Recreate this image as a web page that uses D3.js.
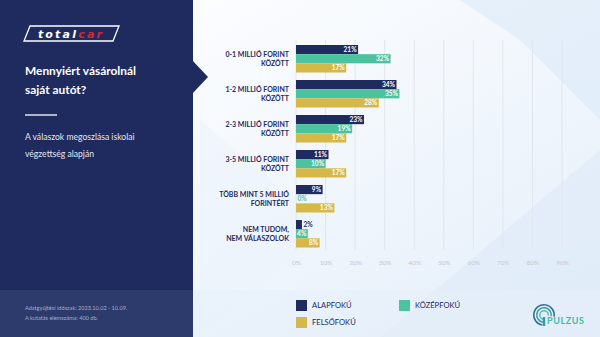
<!DOCTYPE html>
<html><head><meta charset="utf-8">
<script src="https://cdn.jsdelivr.net/npm/d3@7"></script>
<style>html,body{margin:0;padding:0;background:#fff;overflow:hidden}svg{display:block;font-family:Lato,"Open Sans",sans-serif}</style>
</head><body><svg id="c" width="600" height="337"></svg>
<script>
const categories = [["0-1 MILLIÓ FORINT","KÖZÖTT"],["1-2 MILLIÓ FORINT","KÖZÖTT"],["2-3 MILLIÓ FORINT","KÖZÖTT"],["3-5 MILLIÓ FORINT","KÖZÖTT"],["TÖBB MINT 5 MILLIÓ","FORINTÉRT"],["NEM TUDOM,","NEM VÁLASZOLOK"]];
const seriesNames = ["ALAPFOKÚ","KÖZÉPFOKÚ","FELSŐFOKÚ"];
const alapfoku = [21,34,23,11,9,2];
const kozepfoku = [32,35,19,10,0,4];
const felsofoku = [17,28,17,17,13,8];
const tickValues = [0,10,20,30,40,50,60,70,80,90];
const colors = ["#1f2a5e","#4cc39f","#d5b847"];
const series = [alapfoku,kozepfoku,felsofoku];

const svg = d3.select("#c");
const defs = svg.append("defs");
const g1 = defs.append("linearGradient").attr("id","bg").attr("x1","0").attr("y1","0").attr("x2","1").attr("y2","1");
g1.append("stop").attr("offset","0").attr("stop-color","#ffffff");
g1.append("stop").attr("offset","0.45").attr("stop-color","#f4f8fd");
g1.append("stop").attr("offset","1").attr("stop-color","#e3eefa");
svg.append("rect").attr("x",0).attr("y",0).attr("width",600).attr("height",337).attr("fill","url(#bg)");
// soft diagonal shapes
svg.append("polygon").attr("points","460,0 600,0 600,120 520,40").attr("fill","#dbe9f8").attr("opacity",0.6);
svg.append("polygon").attr("points","380,337 600,150 600,337").attr("fill","#dceaf8").attr("opacity",0.55);
svg.append("polygon").attr("points","200,120 330,230 200,337").attr("fill","#edf3fb").attr("opacity",0.6);
svg.append("rect").attr("x",193).attr("y",290).attr("width",407).attr("height",47).attr("fill","#e6f0fa").attr("opacity",0.5);

// left panel
svg.append("rect").attr("x",0).attr("y",0).attr("width",193).attr("height",337).attr("fill","#1f2b5e");
svg.append("polygon").attr("points","192,60 208,77 192,94").attr("fill","#1f2b5e");
svg.append("rect").attr("x",0).attr("y",290).attr("width",193).attr("height",47).attr("fill","#2d3a6c");

// totalcar logo
svg.append("polygon").attr("points","30,26 119,26 113,41 24,41").attr("fill","none").attr("stroke","#ffffff").attr("stroke-width",1.3);
const logo = svg.append("text").attr("x",71).attr("y",37.5).attr("text-anchor","middle")
  .attr("font-size",11).attr("font-weight",900).attr("font-style","italic").attr("letter-spacing",2.2)
  .style("font-family","'DejaVu Sans',sans-serif");
logo.append("tspan").attr("fill","#ffffff").text("total");
logo.append("tspan").attr("fill","#d7262e").text("car");

// title
const title = svg.append("text").attr("fill","#ffffff").attr("font-weight",700).attr("font-size",11.9);
title.append("tspan").attr("x",25).attr("y",75).text("Mennyiért vásárolnál");
title.append("tspan").attr("x",25).attr("y",94).text("saját autót?");
svg.append("line").attr("x1",25).attr("x2",57).attr("y1",115).attr("y2",115).attr("stroke","#ffffff").attr("stroke-width",1.3);
const sub = svg.append("text").attr("fill","#e3e6f0").attr("font-size",8.6);
sub.append("tspan").attr("x",25).attr("y",140).text("A válaszok megoszlása iskolai");
sub.append("tspan").attr("x",25).attr("y",157).text("végzettség alapján");
const foot = svg.append("text").attr("fill","#a6aec8").attr("font-size",5.6);
foot.append("tspan").attr("x",25).attr("y",310).text("Adatgyűjtési időszak: 2023.10.02 - 10.09.");
foot.append("tspan").attr("x",25).attr("y",320).text("A kutatás elemszáma: 400 db.");

// scales
const x = d3.scaleLinear().domain([0,90]).range([296,562]);
const idx = d3.range(categories.length);
const y = d3.scaleBand().domain(idx).range([41.25,251.25]).paddingInner(7.5/35).paddingOuter(3.75/35);
const ys = d3.scaleBand().domain(d3.range(series.length)).range([0,y.bandwidth()]);

// grid
svg.append("g").selectAll("line").data(tickValues).join("line")
  .attr("x1",d=>x(d)).attr("x2",d=>x(d)).attr("y1",40).attr("y2",250)
  .attr("stroke","#e2e6ec").attr("stroke-width",1);

// axis
const ax = svg.append("g").attr("transform","translate(0,257)")
  .call(d3.axisBottom(x).tickValues(tickValues).tickFormat(d=>d+"%").tickSize(0));
ax.select(".domain").remove();
ax.selectAll("text").attr("fill","#c3c8d1").attr("font-size",6.5).style("font-family","Lato,sans-serif");

// bars
const groups = svg.append("g").selectAll("g").data(idx).join("g").attr("transform",i=>`translate(0,${y(i)})`);
series.forEach((s,si)=>{
  groups.append("rect").attr("x",x(0)).attr("y",ys(si)).attr("height",ys.bandwidth())
    .attr("width",i=>x(s[i])-x(0)).attr("fill",colors[si]);
  groups.append("text")
    .attr("x",i=> s[i] >= 4 ? x(s[i])-1.5 : x(s[i])+1.5)
    .attr("y",ys(si)+ys.bandwidth()/2)
    .attr("dy","0.36em")
    .attr("text-anchor",i=> s[i] >= 4 ? "end" : "start")
    .attr("font-size",6.6).attr("font-weight",700)
    .attr("fill",i=> s[i] >= 4 ? "#ffffff" : colors[si])
    .text(i=>s[i]+"%");
});

// category labels
groups.append("text").attr("x",289).attr("text-anchor","end").attr("fill","#1f2a5e")
  .attr("font-size",7).attr("font-weight",700)
  .each(function(i){
    const t=d3.select(this);
    const c=y.bandwidth()/2;
    t.append("tspan").attr("x",289).attr("y",c-1.8).text(categories[i][0]);
    t.append("tspan").attr("x",289).attr("y",c+7.2).text(categories[i][1]);
  });

// legend
const legPos = [[296,300],[399,300],[296,317]];
seriesNames.forEach((n,i)=>{
  const [lx,ly]=legPos[i];
  svg.append("rect").attr("x",lx).attr("y",ly).attr("width",11).attr("height",11).attr("fill",colors[i]);
  svg.append("text").attr("x",lx+16).attr("y",ly+5.5).attr("dy","0.36em").attr("font-size",7.6)
    .attr("fill","#1f2a5e").text(n);
});

// pulzus logo
const pl = svg.append("g").attr("transform","translate(544,315)");
const arc = d3.arc();
[[9.5,11,"#2f6f8f"],[6.5,8,"#3a9aa0"],[3.5,5,"#4cc3a6"]].forEach(([r0,r1,c])=>{
  pl.append("path").attr("d",arc({innerRadius:r0,outerRadius:r1,startAngle:-Math.PI*0.95,endAngle:Math.PI*0.55})).attr("fill",c);
});
pl.append("rect").attr("x",-1.2).attr("y",2).attr("width",2.4).attr("height",9).attr("fill","#3a9aa0");
svg.append("text").attr("x",547).attr("y",324).attr("font-size",9).attr("font-weight",700)
  .attr("fill","#45b9a6").attr("letter-spacing",0.6).text("PULZUS");
</script></body></html>
